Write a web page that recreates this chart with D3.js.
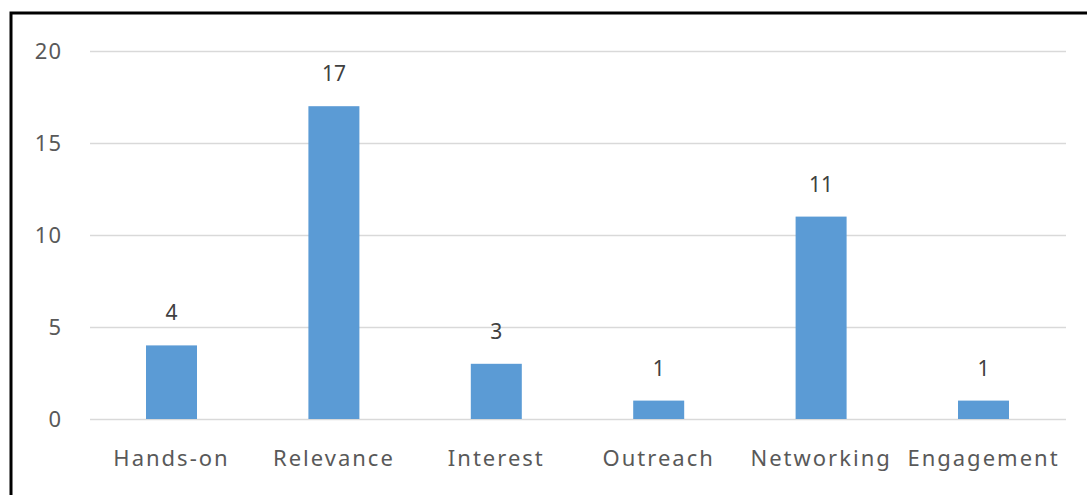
<!DOCTYPE html>
<html><head><meta charset="utf-8">
<script src="https://cdn.jsdelivr.net/npm/d3@7"></script>
<style>body{margin:0;background:#fff;}svg{display:block;}</style>
</head><body>
<script>
const categories = ["Hands-on","Relevance","Interest","Outreach","Networking","Engagement"];
const values = [4,17,3,1,11,1];
const yTicks = [0,5,10,15,20];

const W=1087,H=495;
const svg=d3.select("body").append("svg").attr("width",W).attr("height",H);
svg.append("rect").attr("width",W).attr("height",H).attr("fill","#fff");

const x=d3.scaleBand().domain(categories).range([90.3,1064.7]).paddingInner(0.686).paddingOuter(0.343);
const y=d3.scaleLinear().domain([0,20]).range([419,51]);

const font="'Noto Sans', 'Open Sans', sans-serif";

// gridlines
const yAxis=d3.axisLeft(y).tickValues(yTicks).tickSize(-(1066-90)).tickPadding(28).tickFormat(d3.format("d"));
const gy=svg.append("g").attr("transform","translate(90,0)").call(yAxis);
gy.select(".domain").remove();
gy.selectAll(".tick line").attr("stroke","#d9d9d9").attr("stroke-width",1.5);
gy.selectAll(".tick text").attr("fill","#595959").attr("font-family",font).attr("font-size",22)
  .attr("letter-spacing","1px").attr("dy","0.35em");

// bars
svg.append("g").selectAll("rect").data(values).join("rect")
  .attr("x",(d,i)=>x(categories[i]))
  .attr("y",d=>y(d))
  .attr("width",x.bandwidth())
  .attr("height",d=>y(0)-y(d))
  .attr("fill","#5B9BD5");

// value labels
svg.append("g").selectAll("text").data(values).join("text")
  .attr("x",(d,i)=>x(categories[i])+x.bandwidth()/2)
  .attr("y",d=>y(d)-25)
  .attr("text-anchor","middle")
  .attr("fill","#404040")
  .attr("font-family",font).attr("font-size",21)
  .text(d=>d);

// x axis labels
const xAxis=d3.axisBottom(x).tickSize(0).tickPadding(31);
const gx=svg.append("g").attr("transform","translate(0,419)").call(xAxis);
gx.select(".domain").remove();
gx.selectAll(".tick text").attr("fill","#595959").attr("font-family",font).attr("font-size",22)
  .attr("letter-spacing","2px").attr("dy","0.71em");

// border
svg.append("rect").attr("x",11).attr("y",13).attr("width",W+20).attr("height",H+20)
  .attr("fill","none").attr("stroke","#000").attr("stroke-width",3);
</script>
</body></html>
